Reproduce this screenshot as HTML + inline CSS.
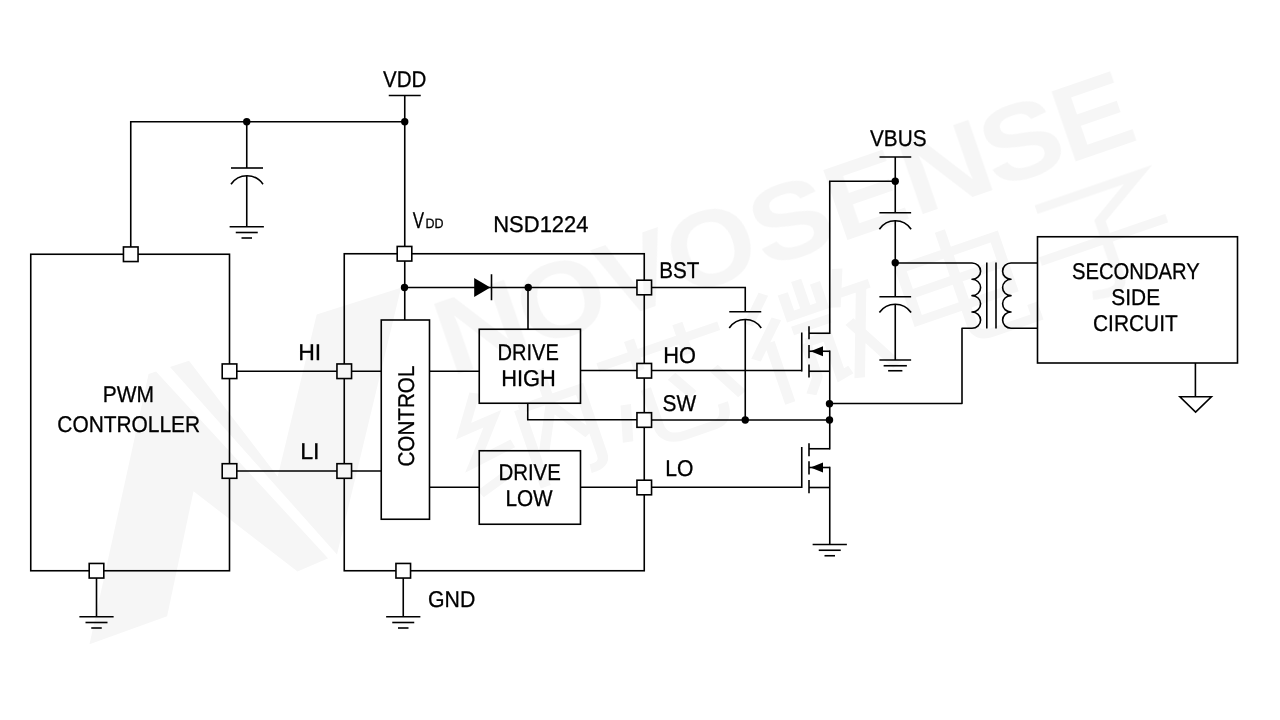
<!DOCTYPE html>
<html><head><meta charset="utf-8"><title>NSD1224</title>
<style>
html,body{margin:0;padding:0;background:#fff;}
body{width:1280px;height:720px;overflow:hidden;font-family:"Liberation Sans",sans-serif;}
svg{display:block;will-change:transform;}
</style></head><body>
<svg width="1280" height="720" viewBox="0 0 1280 720" font-family="'Liberation Sans', sans-serif">
<rect width="1280" height="720" fill="#fff"/>
<g fill="none" stroke="#000" stroke-width="1.6" stroke-linecap="butt" stroke-linejoin="miter">
<rect x="30.75" y="254.25" width="198.75" height="316.5"/>
<rect x="344.25" y="253.75" width="300" height="317"/>
<rect x="381.25" y="320" width="48.25" height="199.25"/>
<rect x="479.25" y="329.25" width="101.25" height="74"/>
<rect x="479.25" y="450.75" width="101.25" height="73.5"/>
<rect x="1037.5" y="236.75" width="200" height="126.25"/>
<path d="M130.75 254L130.75 121.75L404.75 121.75"/>
<path d="M388.75 95.5L420.75 95.5"/>
<path d="M404.75 95.5L404.75 320"/>
<path d="M246.75 121.75L246.75 168"/>
<path d="M231.0 168L263.0 168"/><path d="M231.0 184.25A19.31 19.31 0 0 1 263.0 184.25"/>
<path d="M246.75 175.75L246.75 226.75"/>
<path d="M229.625 226.75L263.875 226.75"/><path d="M235.75 232.5L257.75 232.5"/><path d="M241.5 238.0L252.0 238.0"/>
<path d="M96.5 570.75L96.5 616.75"/>
<path d="M79.375 616.75L113.625 616.75"/><path d="M85.5 622.5L107.5 622.5"/><path d="M91.25 628.0L101.75 628.0"/>
<path d="M403.25 570.75L403.25 616.75"/>
<path d="M386.125 616.75L420.375 616.75"/><path d="M392.25 622.5L414.25 622.5"/><path d="M398.0 628.0L408.5 628.0"/>
<path d="M229.5 371.25L381.25 371.25"/>
<path d="M229.5 471L381.25 471"/>
<path d="M404.5 287.5L644.25 287.5"/>
<path d="M491.5 274.25L491.5 300.25"/>
<path d="M528 287.5L528 329.25"/>
<path d="M429.5 371.25L479.25 371.25"/>
<path d="M580.5 370.5L801.75 370.5"/>
<path d="M429.5 487.25L479.25 487.25"/>
<path d="M580.5 487.25L801.75 487.25"/>
<path d="M527.75 403.25L527.75 419.75L644 419.75"/>
<path d="M644 420L829.75 420"/>
<path d="M644 287.5L745.25 287.5L745.25 311.75"/>
<path d="M729.25 311.75L761.25 311.75"/><path d="M729.25 328.0A19.31 19.31 0 0 1 761.25 328.0"/>
<path d="M745.25 319.5L745.25 420"/>
<path d="M801.75 332.5L801.75 371.5"/><path d="M809 326.25L809 339.25"/><path d="M809 345L809 358.25"/><path d="M809 364.5L809 377.5"/><path d="M809 333.25L829.75 333.25"/><path d="M809 351.25L829.75 351.25"/><path d="M809 371.25L829.75 371.25"/><path d="M810.5 351.25L823 346.35L823 356.15Z" fill="#000" stroke="none"/>
<path d="M801.75 447L801.75 488"/><path d="M809 443.25L809 456.25"/><path d="M809 461.25L809 474.5"/><path d="M809 480L809 493.25"/><path d="M809 448.75L829.75 448.75"/><path d="M809 467.5L829.75 467.5"/><path d="M809 487.5L829.75 487.5"/><path d="M810.5 467.5L823 462.6L823 472.4Z" fill="#000" stroke="none"/>
<path d="M829.75 334L829.75 181.25L895.25 181.25"/>
<path d="M829.75 350.5L829.75 449.5"/>
<path d="M829.75 466.75L829.75 544.5"/>
<path d="M812.625 544.5L846.875 544.5"/><path d="M818.75 550.25L840.75 550.25"/><path d="M824.5 555.75L835.0 555.75"/>
<path d="M879.5 157L911.25 157"/>
<path d="M895.25 157L895.25 212.75"/>
<path d="M879.375 212.75L911.125 212.75"/><path d="M879.375 229.25A19.07 19.07 0 0 1 911.125 229.25"/>
<path d="M895.25 220.75L895.25 296.75"/>
<path d="M879.375 296.75L911.125 296.75"/><path d="M879.375 312.5A19.40 19.40 0 0 1 911.125 312.5"/>
<path d="M895.25 304.25L895.25 360"/>
<path d="M879.375 360L911.125 360"/><path d="M883.625 365.75L906.875 365.75"/><path d="M888.125 370.75L902.375 370.75"/>
<path d="M895.25 263H972a8.6 8.16 0 0 1 0 16.32a8.6 8.16 0 0 1 0 16.32a8.6 8.16 0 0 1 0 16.32a8.6 8.16 0 0 1 0 16.32H962V403.5H829.75" stroke-linejoin="round"/>
<path d="M986.8 262.5L986.8 328.5"/>
<path d="M996 262.5L996 328.5"/>
<path d="M1037.5 263H1011a8.4 8.16 0 0 0 0 16.32a8.4 8.16 0 0 0 0 16.32a8.4 8.16 0 0 0 0 16.32a8.4 8.16 0 0 0 0 16.32H1037.5" stroke-linejoin="round"/>
<path d="M1195.4 363L1195.4 396.7"/>
<path d="M1179.9 396.7L1211.4 396.7L1195.6 412.1Z" fill="#fff"/>
</g>
<path d="M474.2 278.0L490.3 287.6L474.2 297.1Z" fill="#000"/>
<circle cx="246.75" cy="121.75" r="3.7" fill="#000"/>
<circle cx="404.75" cy="121.75" r="3.7" fill="#000"/>
<circle cx="404.5" cy="287.5" r="3.7" fill="#000"/>
<circle cx="528.25" cy="287.5" r="3.7" fill="#000"/>
<circle cx="745.25" cy="420" r="3.7" fill="#000"/>
<circle cx="829.5" cy="420" r="3.7" fill="#000"/>
<circle cx="829.5" cy="403.75" r="3.7" fill="#000"/>
<circle cx="895.25" cy="181.25" r="3.7" fill="#000"/>
<circle cx="895.25" cy="262.75" r="3.7" fill="#000"/>
<rect x="123.45" y="246.95" width="14.6" height="14.6" fill="#fff" stroke="#000" stroke-width="1.6"/>
<rect x="222.20" y="363.95" width="14.6" height="14.6" fill="#fff" stroke="#000" stroke-width="1.6"/>
<rect x="222.20" y="463.70" width="14.6" height="14.6" fill="#fff" stroke="#000" stroke-width="1.6"/>
<rect x="89.20" y="563.45" width="14.6" height="14.6" fill="#fff" stroke="#000" stroke-width="1.6"/>
<rect x="397.20" y="246.45" width="14.6" height="14.6" fill="#fff" stroke="#000" stroke-width="1.6"/>
<rect x="336.95" y="363.95" width="14.6" height="14.6" fill="#fff" stroke="#000" stroke-width="1.6"/>
<rect x="336.95" y="463.70" width="14.6" height="14.6" fill="#fff" stroke="#000" stroke-width="1.6"/>
<rect x="395.95" y="563.45" width="14.6" height="14.6" fill="#fff" stroke="#000" stroke-width="1.6"/>
<rect x="636.95" y="280.20" width="14.6" height="14.6" fill="#fff" stroke="#000" stroke-width="1.6"/>
<rect x="636.95" y="363.45" width="14.6" height="14.6" fill="#fff" stroke="#000" stroke-width="1.6"/>
<rect x="636.95" y="412.70" width="14.6" height="14.6" fill="#fff" stroke="#000" stroke-width="1.6"/>
<rect x="636.95" y="480.20" width="14.6" height="14.6" fill="#fff" stroke="#000" stroke-width="1.6"/>
<g fill="#000" stroke="#000" stroke-width="0.3" stroke-linejoin="round" text-rendering="geometricPrecision">
<text x="383.05" y="87" font-size="22.8" textLength="43.35" lengthAdjust="spacingAndGlyphs">VDD</text>
<text x="493.24" y="232.2" font-size="22.8" textLength="95.32" lengthAdjust="spacingAndGlyphs">NSD1224</text>
<text x="102.79" y="402" font-size="22.8" textLength="51.32" lengthAdjust="spacingAndGlyphs">PWM</text>
<text x="57.29" y="432" font-size="22.8" textLength="142.89" lengthAdjust="spacingAndGlyphs">CONTROLLER</text>
<text x="298.18" y="359.5" font-size="22.8" textLength="23.04" lengthAdjust="spacingAndGlyphs">HI</text>
<text x="300.18" y="459.25" font-size="22.8" textLength="19.41" lengthAdjust="spacingAndGlyphs">LI</text>
<text x="497.45" y="359.5" font-size="22.8" textLength="61.33" lengthAdjust="spacingAndGlyphs">DRIVE</text>
<text x="501.22" y="385.5" font-size="22.8" textLength="54.61" lengthAdjust="spacingAndGlyphs">HIGH</text>
<text x="498.38" y="480" font-size="22.8" textLength="62.47" lengthAdjust="spacingAndGlyphs">DRIVE</text>
<text x="505.4" y="506.25" font-size="22.8" textLength="47.29" lengthAdjust="spacingAndGlyphs">LOW</text>
<text x="428.0" y="607" font-size="22.8" textLength="47.24" lengthAdjust="spacingAndGlyphs">GND</text>
<text x="659.13" y="277.5" font-size="22.8" textLength="40.2" lengthAdjust="spacingAndGlyphs">BST</text>
<text x="663.36" y="363.25" font-size="22.8" textLength="32.67" lengthAdjust="spacingAndGlyphs">HO</text>
<text x="662.55" y="411.25" font-size="22.8" textLength="33.66" lengthAdjust="spacingAndGlyphs">SW</text>
<text x="665.37" y="475.75" font-size="22.8" textLength="28.15" lengthAdjust="spacingAndGlyphs">LO</text>
<text x="870.0" y="145.5" font-size="22.8" textLength="56.52" lengthAdjust="spacingAndGlyphs">VBUS</text>
<text x="1072.02" y="279.3" font-size="22.8" textLength="127.66" lengthAdjust="spacingAndGlyphs">SECONDARY</text>
<text x="1111.34" y="305.1" font-size="22.8" textLength="48.76" lengthAdjust="spacingAndGlyphs">SIDE</text>
<text x="1093.0" y="331.4" font-size="22.8" textLength="84.74" lengthAdjust="spacingAndGlyphs">CIRCUIT</text>
<text x="412.79" y="228" font-size="22.8" textLength="11.34" lengthAdjust="spacingAndGlyphs">V</text>
<text x="425.51" y="228" font-size="13.6" textLength="18.0" lengthAdjust="spacingAndGlyphs">DD</text>
<text transform="translate(413.5 465.6) rotate(-90)" x="-1.00" y="0" font-size="22.8" textLength="101.0" lengthAdjust="spacingAndGlyphs">CONTROL</text>
</g>
<g opacity="0.037" fill="#000"><path fill-rule="evenodd" d="M148.6 374L189 360.8L277.7 476.6L316.7 314.4L401 287.8L337 554.4L297.5 571.4L193.5 491.2L167.1 616.3L89.5 644.3ZM156 371.6L170 367L337 554.4L328 558.3Z"/><g font-weight="bold" font-size="108.4" transform="translate(438 381) rotate(-19)"><text x="13.1" y="-0.5" textLength="90.9" lengthAdjust="spacingAndGlyphs">N</text><text x="98.8" y="-0.5" textLength="88.4" lengthAdjust="spacingAndGlyphs">O</text><text x="185.2" y="-0.5" textLength="73.5" lengthAdjust="spacingAndGlyphs">V</text><text x="257.3" y="-0.5" textLength="88.4" lengthAdjust="spacingAndGlyphs">O</text><text x="345.5" y="-0.5" textLength="80.2" lengthAdjust="spacingAndGlyphs">S</text><text x="425.2" y="-0.5" textLength="77.3" lengthAdjust="spacingAndGlyphs">E</text><text x="504.3" y="-0.5" textLength="90.7" lengthAdjust="spacingAndGlyphs">N</text><text x="589.5" y="-0.5" textLength="80.2" lengthAdjust="spacingAndGlyphs">S</text><text x="666.7" y="-0.5" textLength="76.4" lengthAdjust="spacingAndGlyphs">E</text></g><path transform="translate(527.0 432.2) rotate(-19) scale(1.42 1.2) translate(-50 -50)" d="M24 5L8 32L30 30L8 60L38 55M5 86L38 74M50 30V98M50 30H95V88Q95 97 84 96M72 4V35L57 70M72 35L91 68" fill="none" stroke="#000" stroke-width="7.5"/><path transform="translate(670.8 382.9) rotate(-19) scale(1.42 1.2) translate(-50 -50)" d="M5 18H95M32 5V32M68 5V32M15 55L8 85M32 48V80Q32 95 48 95H70Q80 95 80 80M52 45L62 65M82 50L95 78" fill="none" stroke="#000" stroke-width="7.5"/><path transform="translate(814.5 333.7) rotate(-19) scale(1.42 1.2) translate(-50 -50)" d="M25 5L8 25M28 28L5 55M18 45V98M38 10V30H62V10M50 3V30M36 42H64M42 55V85L34 97M42 55H58V90L66 88M80 5L70 35M74 25H98M92 25L70 97M76 50L98 97" fill="none" stroke="#000" stroke-width="7.5"/><path transform="translate(958.2 284.4) rotate(-19) scale(1.42 1.2) translate(-50 -50)" d="M15 22H85V68H15ZM15 45H85M50 3V85Q50 97 62 97H95V85" fill="none" stroke="#000" stroke-width="7.5"/><path transform="translate(1102.0 235.2) rotate(-19) scale(1.42 1.2) translate(-50 -50)" d="M12 12H88L52 38V88Q52 98 40 97L30 95M3 54H97" fill="none" stroke="#000" stroke-width="7.5"/></g>
</svg>
</body></html>
